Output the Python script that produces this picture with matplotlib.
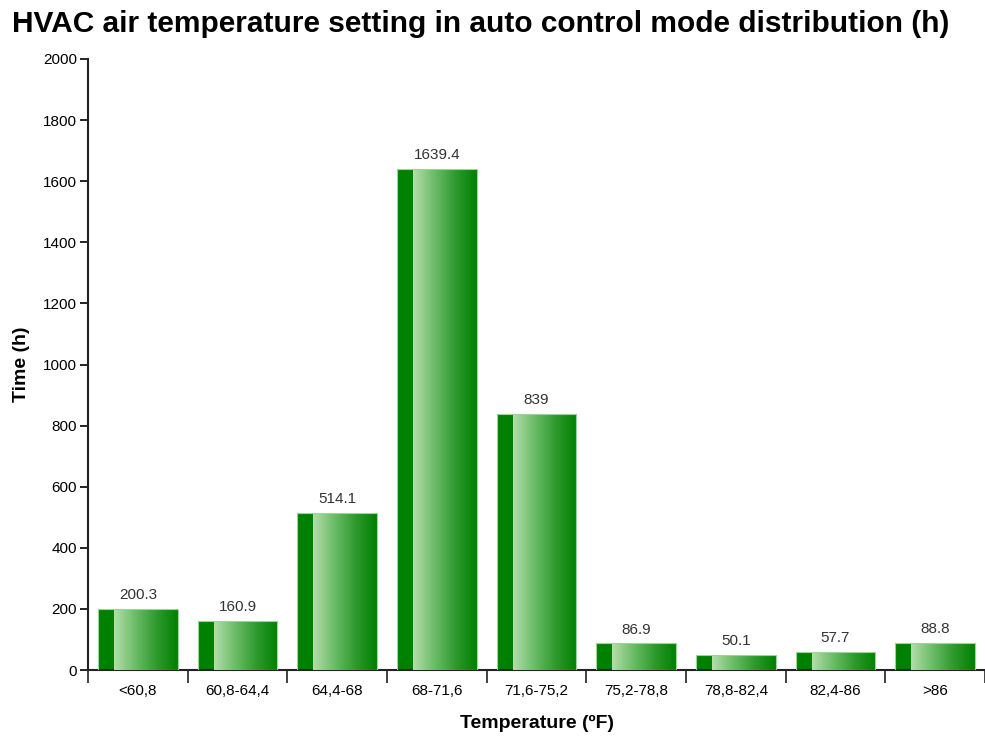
import numpy as np
import matplotlib.pyplot as plt
from matplotlib.colors import LinearSegmentedColormap

plt.rcParams['font.family'] = ['Liberation Sans', 'DejaVu Sans']

categories = ["<60,8", "60,8-64,4", "64,4-68", "68-71,6", "71,6-75,2",
              "75,2-78,8", "78,8-82,4", "82,4-86", ">86"]
hours = [200.3, 160.9, 514.1, 1639.4, 839, 86.9, 50.1, 57.7, 88.8]
value_labels = ["200.3", "160.9", "514.1", "1639.4", "839", "86.9", "50.1", "57.7", "88.8"]

fig = plt.figure(figsize=(9.85, 7.38), dpi=100)
ax = fig.add_axes([88 / 985, 1 - 670 / 738, 1 - 88 / 985, (670 - 59) / 738])

x = np.arange(len(categories))
bars = ax.bar(x, hours, width=0.8, color="#008000", edgecolor="none", zorder=2)

cmap = LinearSegmentedColormap.from_list("grad", ["#b3deaa", "#6cbc68", "#2e9a2e", "#008000"])
grad = np.linspace(0, 1, 256).reshape(1, -1)
for b in bars:
    x0, w, h = b.get_x(), b.get_width(), b.get_height()
    im = ax.imshow(grad, cmap=cmap, aspect="auto", interpolation="bicubic",
                   extent=(x0 + 0.2 * w, x0 + w, 0, h), zorder=3)
    im.set_clip_path(b)
    # thin light outline on top
    ax.add_patch(plt.Rectangle((x0, 0), w, h, fill=False, edgecolor="#9ad69a",
                               linewidth=0.8, zorder=4))

for xi, h, lab in zip(x, hours, value_labels):
    ax.annotate(lab, (xi, h), xytext=(0, 5), textcoords="offset points",
                ha="center", va="bottom", fontsize=11, color="#333333")

ax.set_xlim(-0.5, len(categories) - 0.5)
ax.set_ylim(0, 2000)
ax.set_yticks(range(0, 2001, 200))
ax.set_xticks(x)
ax.set_xticklabels(categories)
ax.set_xticks(np.arange(-0.5, len(categories), 1), minor=True)
ax.tick_params(axis="x", which="major", length=0, pad=10, labelsize=11)
ax.tick_params(axis="x", which="minor", length=9, width=1.2, color="#222222")
ax.tick_params(axis="y", length=6, width=1.2, labelsize=11, pad=2)

for s in ["top", "right"]:
    ax.spines[s].set_visible(False)
for s in ["left", "bottom"]:
    ax.spines[s].set_linewidth(1.5)
    ax.spines[s].set_color("#222222")

ax.set_xlabel("Temperature (ºF)", fontsize=14, fontweight="bold", labelpad=12)
ax.set_ylabel("Time (h)", fontsize=14, fontweight="bold", labelpad=9)
fig.suptitle("HVAC air temperature setting in auto control mode distribution (h)",
             fontsize=21.5, fontweight="bold", x=0.488, y=0.987)

fig.savefig("out.png", dpi=100)
